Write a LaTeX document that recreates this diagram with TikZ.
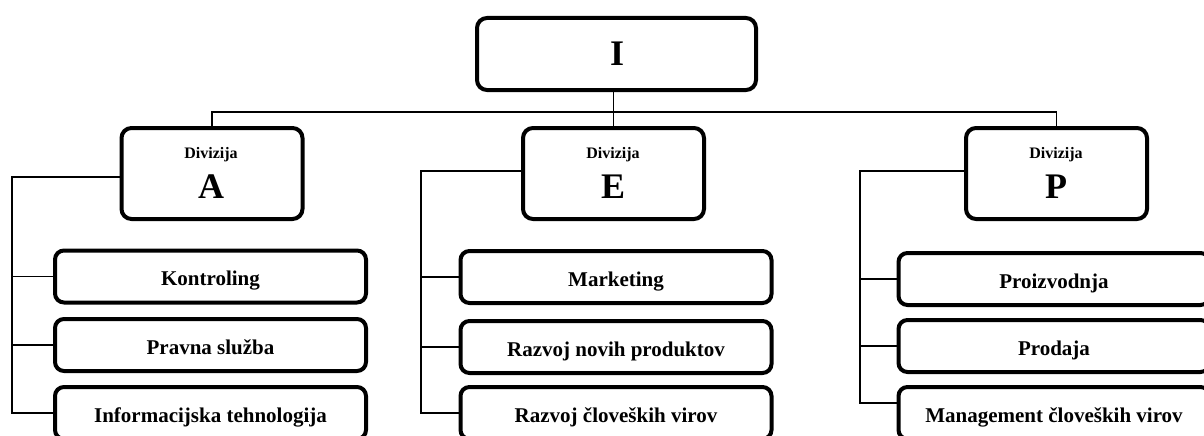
\documentclass[tikz,border=0pt]{standalone}
\usepackage{fontspec}
\setmainfont{Liberation Serif}
\begin{document}
\begin{tikzpicture}[x=1pt,y=-1pt,
  box/.style={draw=black, line width=4pt, rounded corners=10pt, inner sep=0pt, outer sep=0pt, fill=white},
  topbox/.style={box, minimum width=279pt, minimum height=72pt},
  divbox/.style={box, minimum width=181pt, minimum height=91pt},
  unitbox/.style={box, rounded corners=9pt, minimum width=311pt, minimum height=52pt,
    font=\fontsize{21}{21}\selectfont\bfseries, text height=18pt, text depth=0pt},
  divword/.style={font=\fontsize{16}{16}\selectfont\bfseries, anchor=base},
  divletter/.style={font=\fontsize{36}{36}\selectfont\bfseries, anchor=base},
  link/.style={line width=1.6pt, draw=black}]
\useasboundingbox (0,0) rectangle (1204,436);
\clip (0,0) rectangle (1204,436);
\fill[white] (0,0) rectangle (1204,436);

% connector coordinates
\coordinate (bus) at (0,112);
\coordinate (ra) at (12,177);
\coordinate (re) at (421,171);
\coordinate (rp) at (860,171);
\coordinate (rp3) at (860,403);

% top level
\node[topbox] (I) at (616.5,54) {};
\node[divletter] (Ilab) at (617,66) {I};

% divisions
\node[divbox] (A) at (212,173.5) {};
\node[divbox] (E) at (613.5,173.5) {};
\node[divbox] (P) at (1056.5,173.5) {};
\node[divword] (Aw) at (211,158) {Divizija};
\node[divletter] (Al) at (211,198) {A};
\node[divword] (Ew) at (613,158) {Divizija};
\node[divletter] (El) at (613,198) {E};
\node[divword] (Pw) at (1056,158) {Divizija};
\node[divletter] (Pl) at (1056,198) {P};

% units
\node[unitbox] (A1) at (210.5,276.5) {Kontroling};
\node[unitbox] (A2) at (210.5,345) {Pravna služba};
\node[unitbox] (A3) at (210.5,413) {Informacijska tehnologija};
\node[unitbox] (E1) at (616,277) {Marketing};
\node[unitbox] (E2) at (616,347) {Razvoj novih produktov};
\node[unitbox] (E3) at (616,413) {Razvoj človeških virov};
\node[unitbox] (P1) at (1054,279) {Proizvodnja};
\node[unitbox] (P2) at (1054,346) {Prodaja};
\node[unitbox] (P3) at (1054,413) {Management človeških virov};

% connectors
\draw[link] (I.south -| E.north) -- (E.north);
\draw[link] (A.north) -- (A.north |- bus) -- (P.north |- bus) -- (P.north);

\draw[link] (A.west |- ra) -- (ra) -- (ra |- A3.west) -- (A3.west);
\draw[link] (ra |- A1.west) -- (A1.west);
\draw[link] (ra |- A2.west) -- (A2.west);

\draw[link] (E.west |- re) -- (re) -- (re |- E3.west) -- (E3.west);
\draw[link] (re |- E1.west) -- (E1.west);
\draw[link] (re |- E2.west) -- (E2.west);

\draw[link] (P.west |- rp) -- (rp) -- (rp3) -- (rp3 -| P3.west);
\draw[link] (rp |- P1.west) -- (P1.west);
\draw[link] (rp |- P2.west) -- (P2.west);
\end{tikzpicture}
\end{document}
